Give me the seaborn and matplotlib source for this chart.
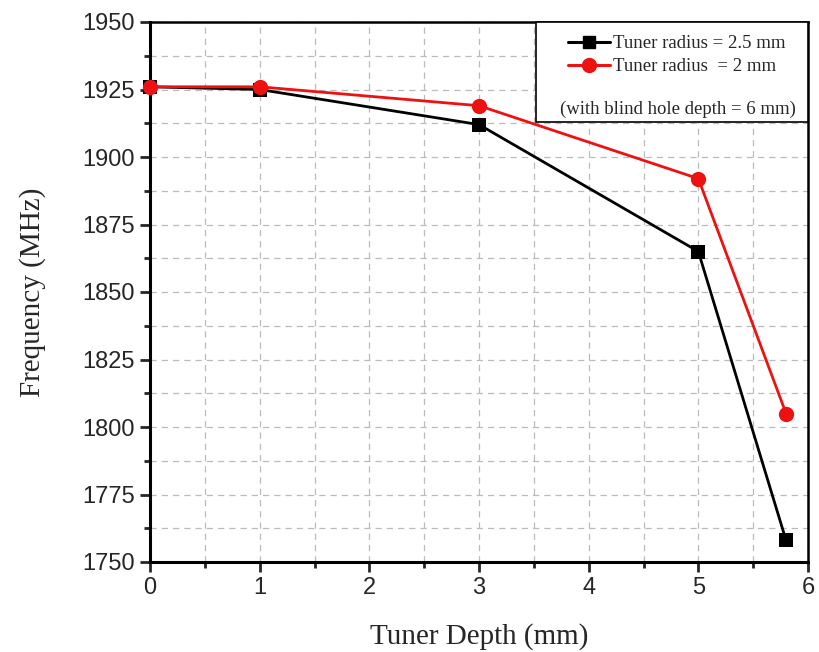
import matplotlib
matplotlib.use("Agg")
import matplotlib.pyplot as plt
import seaborn as sns
import pandas as pd
from matplotlib.patches import Rectangle
from matplotlib.ticker import MultipleLocator

depth = [0, 1, 3, 5, 5.8]
freq_r25 = [1926, 1925, 1912, 1865, 1758]
freq_r2 = [1926, 1926, 1919, 1892, 1805]
series = ["Tuner radius = 2.5 mm", "Tuner radius  = 2 mm"]
note = "(with blind hole depth = 6 mm)"

df = pd.DataFrame({
    "depth": depth * 2,
    "freq": freq_r25 + freq_r2,
    "series": [series[0]] * len(depth) + [series[1]] * len(depth),
})

sns.set_style("white")
fig = plt.figure(figsize=(8.19, 6.52), dpi=100)
L, R, T, B = 150, 808, 22, 562
ax = fig.add_axes([L/819, 1 - B/652, (R-L)/819, (B-T)/652])

palette = {series[0]: "black", series[1]: "#ee1111"}
markers = {series[0]: "s", series[1]: "o"}
sns.lineplot(data=df, x="depth", y="freq", hue="series", style="series",
             palette=palette, markers=markers, dashes=False, markersize=10,
             linewidth=2, markeredgewidth=0, ax=ax, legend=False, zorder=3,
             clip_on=False)
for ln in ax.lines:
    if ln.get_marker() == "o":
        ln.set_markersize(11)

ax.set_xlim(0, 6)
ax.set_ylim(1750, 1950)
ax.xaxis.set_major_locator(MultipleLocator(1))
ax.xaxis.set_minor_locator(MultipleLocator(0.5))
ax.yaxis.set_major_locator(MultipleLocator(25))
ax.yaxis.set_minor_locator(MultipleLocator(12.5))
ax.grid(True, which="both", color="#bbbbbb", linestyle=(0, (5, 4)), linewidth=0.9)
ax.set_axisbelow(True)

for s in ["left", "bottom"]:
    ax.spines[s].set_linewidth(2.2)
for s in ["top", "right"]:
    ax.spines[s].set_linewidth(1.8)
for s in ax.spines.values():
    s.set_color("black")

ax.tick_params(which="major", direction="out", length=7, width=2, labelsize=17,
               left=True, bottom=True, top=False, right=False, pad=4)
ax.tick_params(which="minor", direction="out", length=4, width=2,
               left=True, bottom=True, top=False, right=False)
for lab in ax.get_xticklabels() + ax.get_yticklabels():
    lab.set_family("Liberation Sans")

ax.set_xlabel("Tuner Depth (mm)", fontsize=21, family="Liberation Serif", labelpad=17)
ax.set_ylabel("Frequency (MHz)", fontsize=21, family="Liberation Serif", labelpad=26)

# legend box
rect = Rectangle((536/819, 1 - 122/652), (R-536)/819, (122-T)/652,
                 transform=fig.transFigure, facecolor="white", edgecolor="black",
                 linewidth=1.2, zorder=5, clip_on=False)
ax.add_patch(rect)
handles = [
    plt.Line2D([], [], color="black", marker="s", markersize=9, linewidth=2.2),
    plt.Line2D([], [], color="#ee1111", marker="o", markersize=10, linewidth=2.2),
]
leg = ax.legend(handles, series, loc="upper left", bbox_to_anchor=(559/819, 1 - 26/652),
                bbox_transform=fig.transFigure, frameon=False, handlelength=2.2,
                handletextpad=0.2, labelspacing=0.3, borderpad=0,
                prop={"family": "Liberation Serif", "size": 13.5})
leg.set_zorder(6)
ax.text(796/819, 1 - 109/652, note, ha="right", va="center", fontsize=13.5,
        family="Liberation Serif", zorder=7, transform=fig.transFigure)

fig.savefig("out.png", dpi=100)
